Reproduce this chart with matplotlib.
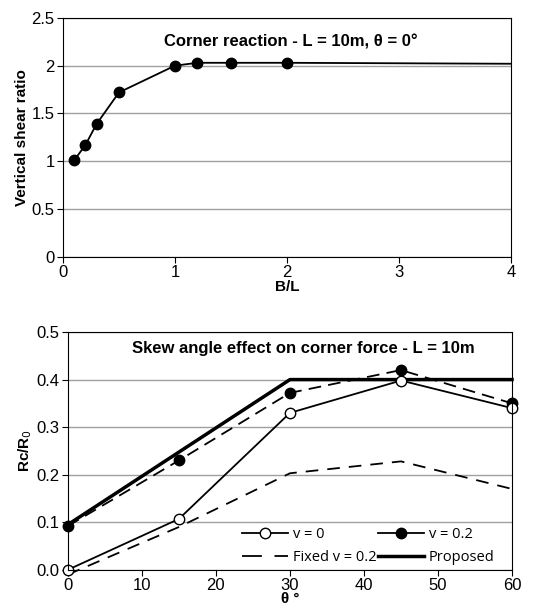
import numpy as np
import matplotlib.pyplot as plt
from matplotlib.lines import Line2D

plt.rcParams['font.family'] = ['Liberation Sans', 'DejaVu Sans']

# top chart: corner reaction vs B/L
bl = [0.1, 0.2, 0.3, 0.5, 1.0, 1.2, 1.5, 2.0]
shear = [1.01, 1.17, 1.39, 1.72, 2.0, 2.03, 2.03, 2.03]
bl_tail = [2.0, 4.0]
shear_tail = [2.03, 2.02]

# bottom chart: skew angle effect
theta = [0, 15, 30, 45, 60]
rc_v0 = [0.0, 0.107, 0.33, 0.398, 0.34]
rc_v02 = [0.092, 0.23, 0.372, 0.42, 0.35]
rc_fixed = [-0.01, 0.09, 0.203, 0.228, 0.17]
theta_prop = [0, 30, 60]
rc_prop = [0.095, 0.4, 0.4]

fig = plt.figure(figsize=(5.43, 6.16), dpi=100)

ax1 = fig.add_axes([0.116, 0.583, 0.825, 0.388])
ax1.plot(bl_tail, shear_tail, color='black', lw=1.3, clip_on=False)
ax1.plot(bl, shear, color='black', lw=1.3, marker='o', ms=7.5, mfc='black')
ax1.set_xlim(0, 4)
ax1.set_ylim(0, 2.5)
ax1.set_xticks([0, 1, 2, 3, 4])
ax1.set_yticks([0, 0.5, 1, 1.5, 2, 2.5])
ax1.set_yticklabels(['0', '0.5', '1', '1.5', '2', '2.5'])
ax1.yaxis.grid(True, color='#a0a0a0', lw=1)
ax1.set_axisbelow(True)
ax1.tick_params(labelsize=12, length=4, pad=2)
ax1.set_xlabel('B/L', fontsize=11, fontweight='bold', labelpad=0)
ax1.set_ylabel('Vertical shear ratio', fontsize=11, fontweight='bold', labelpad=2)
ax1.text(2.03, 2.25, 'Corner reaction - L = 10m, θ = 0°', ha='center', va='center',
         fontsize=12, fontweight='bold')

ax2 = fig.add_axes([0.125, 0.075, 0.818, 0.386])
ax2.plot(theta, rc_fixed, color='black', lw=1.3, dashes=(7, 5), clip_on=False, label='Fixed v = 0.2')
ax2.plot(theta_prop, rc_prop, color='black', lw=2.5, clip_on=False, label='Proposed')
ax2.plot(theta, rc_v02, color='black', lw=1.3, dashes=(7, 4), marker='o', ms=7.5,
         mfc='black', clip_on=False, label='v = 0.2')
ax2.plot(theta, rc_v0, color='black', lw=1.3, marker='o', ms=7.5, mfc='white',
         clip_on=False, label='v = 0')
ax2.set_xlim(0, 60)
ax2.set_ylim(0, 0.5)
ax2.set_xticks(range(0, 61, 10))
ax2.set_yticks([0, 0.1, 0.2, 0.3, 0.4, 0.5])
ax2.set_yticklabels(['0.0', '0.1', '0.2', '0.3', '0.4', '0.5'])
ax2.yaxis.grid(True, color='#a0a0a0', lw=1)
ax2.set_axisbelow(True)
ax2.tick_params(labelsize=12, length=4, pad=2)
ax2.set_xlabel('θ °', fontsize=11, fontweight='bold', labelpad=-1)
ax2.set_ylabel('Rc/R$_0$', fontsize=11, fontweight='bold', labelpad=2)
ax2.text(0.53, 0.93, 'Skew angle effect on corner force - L = 10m', transform=ax2.transAxes,
         ha='center', va='center', fontsize=12, fontweight='bold')

h, l = ax2.get_legend_handles_labels()
v02_leg = Line2D([], [], color='black', lw=1.3, marker='o', ms=7.5, mfc='black')
fixed_leg = Line2D([], [], color='black', lw=1.3, dashes=(11, 7))
handles = [h[3], fixed_leg, v02_leg, h[1]]
labels = [l[3], l[0], l[2], l[1]]
ax2.legend(handles, labels, ncol=2, loc='lower right', bbox_to_anchor=(0.99, -0.035),
           frameon=False, prop={'family': 'Open Sans', 'size': 10.5},
           handlelength=3.2, columnspacing=0.1, handletextpad=0.3, labelspacing=0.55)

fig.savefig('out.png', dpi=100)
